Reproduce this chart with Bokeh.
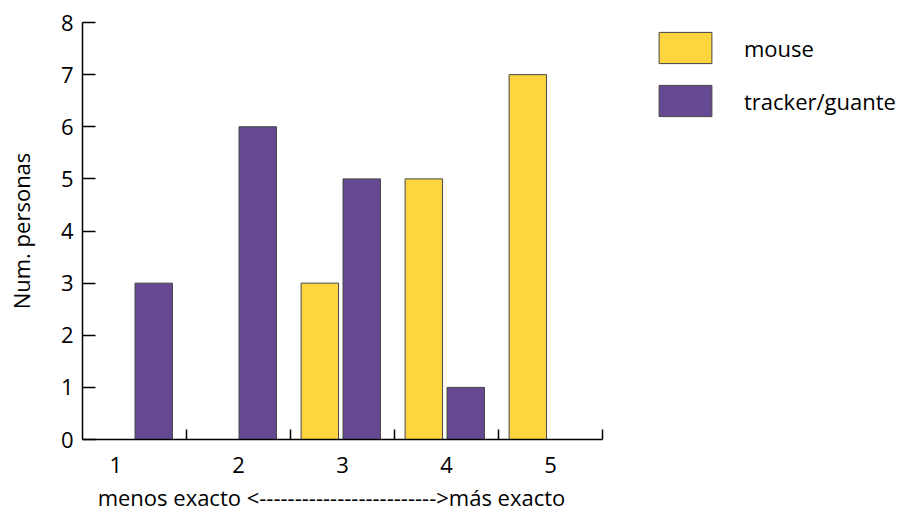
from bokeh.plotting import figure
from bokeh.models import ColumnDataSource, FixedTicker, Legend, LegendItem, Range1d
from bokeh.transform import dodge
from bokeh.embed import file_html
from bokeh.resources import INLINE

categories = [1, 2, 3, 4, 5]
mouse = [0, 0, 3, 5, 7]
tracker = [3, 6, 5, 1, 0]
tick_labels = ["1", "2", "3", "4", "5"]
label_pos = [0.82, 2, 3, 4, 5]
y_ticks = [0, 1, 2, 3, 4, 5, 6, 7, 8]
x_title = "menos exacto <" + "-" * 25 + ">más exacto"
y_title = "Num. personas"

YELLOW = "#FDD63F"
PURPLE = "#654A93"
EDGE = "#454545"
FONT = "Open Sans"
FS = "22px"

src = ColumnDataSource(dict(x=categories, mouse=mouse, tracker=tracker))

p = figure(width=900, height=514, output_backend="svg", toolbar_location=None,
           x_range=Range1d(0.5, 8.365), y_range=Range1d(0, 8),
           min_border_left=82, min_border_top=22, min_border_bottom=74,
           min_border_right=0)
p.outline_line_color = None
p.xgrid.grid_line_color = None
p.ygrid.grid_line_color = None

r1 = p.vbar(x=dodge("x", -0.218, range=p.x_range), top="mouse", width=0.36,
            source=src, fill_color=YELLOW, line_color=EDGE, line_width=1)
r2 = p.vbar(x=dodge("x", 0.185, range=p.x_range), top="tracker", width=0.36,
            source=src, fill_color=PURPLE, line_color=EDGE, line_width=1)

xa = p.xaxis[0]
xa.bounds = (0.5, 5.5)
xa.ticker = FixedTicker(ticks=label_pos, minor_ticks=[1.5, 2.5, 3.5, 4.5, 5.5])
xa.major_label_overrides = {v: t for v, t in zip(label_pos, tick_labels)}
xa.major_tick_line_color = None
xa.minor_tick_in = 10
xa.minor_tick_out = 0
xa.minor_tick_line_width = 1.5
xa.minor_tick_line_color = "black"
xa.axis_line_width = 1.5
xa.axis_line_color = "black"
xa.major_label_standoff = 11
xa.major_label_text_font = FONT
xa.major_label_text_font_size = FS
xa.major_label_text_color = "black"
# trailing no-break spaces shift the centred title left, under the drawn axis
xa.axis_label = x_title + "\u00a0" * 56
xa.axis_label_text_font = FONT
xa.axis_label_text_font_size = FS
xa.axis_label_text_font_style = "normal"
xa.axis_label_text_color = "black"
xa.axis_label_standoff = 6

ya = p.yaxis[0]
ya.bounds = (0, 8)
ya.ticker = FixedTicker(ticks=y_ticks)
ya.major_tick_in = 13
ya.major_tick_out = 0
ya.minor_tick_line_color = None
ya.major_tick_line_width = 1.5
ya.axis_line_width = 1.5
ya.axis_line_color = "black"
ya.major_tick_line_color = "black"
ya.major_label_standoff = 9
ya.major_label_text_font = FONT
ya.major_label_text_font_size = FS
ya.major_label_text_color = "black"
ya.axis_label = y_title
ya.axis_label_text_font = FONT
ya.axis_label_text_font_size = FS
ya.axis_label_text_font_style = "normal"
ya.axis_label_text_color = "black"
ya.axis_label_standoff = 22

legend = Legend(items=[LegendItem(label="mouse", renderers=[r1]),
                       LegendItem(label="tracker/guante", renderers=[r2])],
                location=(570, 319), glyph_width=66, glyph_height=39,
                spacing=14, label_standoff=26, padding=0, margin=0,
                border_line_color=None, background_fill_alpha=0,
                label_text_font=FONT, label_text_font_size=FS,
                label_text_color="black", label_height=39)
p.add_layout(legend)

open("out.html", "w").write(file_html(p, INLINE))
